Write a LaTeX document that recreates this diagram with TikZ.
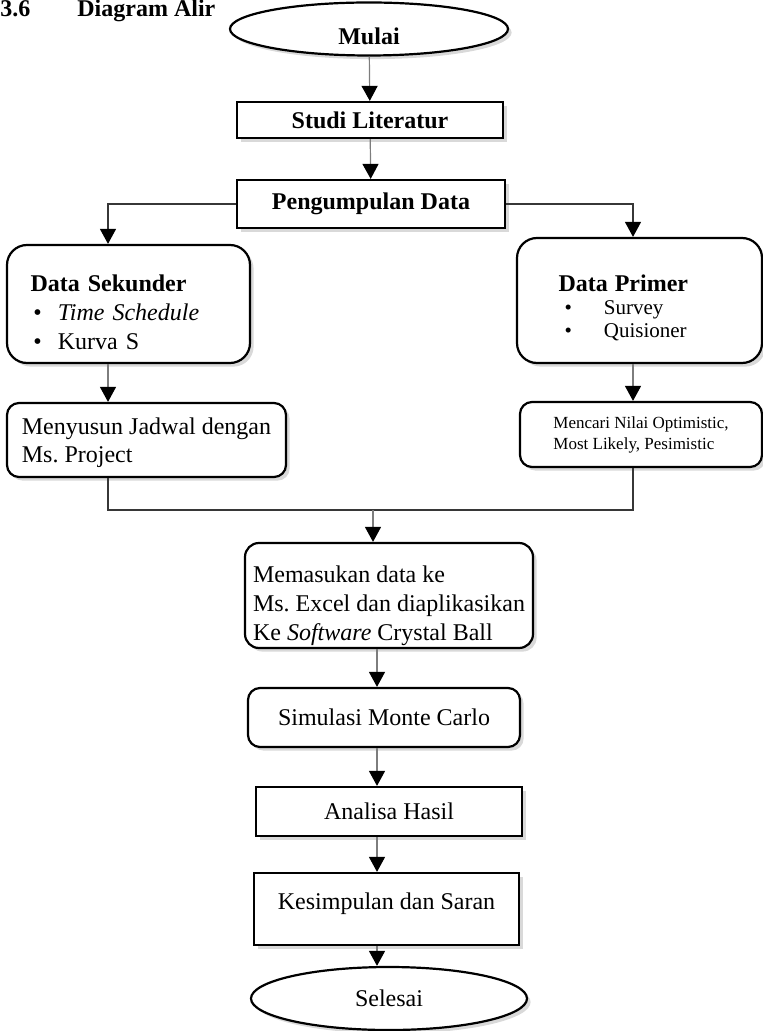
\documentclass[tikz,border=0pt]{standalone}
\usepackage{fontspec}
\setmainfont{Liberation Serif}
\frenchspacing
\usetikzlibrary{arrows.meta,positioning,shapes.geometric,shadows}
\definecolor{linegray}{RGB}{125,125,125}
\definecolor{joingray}{RGB}{55,55,55}
\tikzset{
  shd/.style={drop shadow={shadow xshift=1.8pt, shadow yshift=-1.8pt, opacity=0.3}},
  ttl/.style={anchor=base west, inner sep=0pt, font=\fontsize{12}{14}\selectfont\bfseries},
  term/.style={ellipse, draw, line width=1.1pt, fill=white, shd, inner sep=0pt,
               font=\fontsize{12}{14}\selectfont},
  proc/.style={rectangle, draw, line width=1.1pt, fill=white, shd, inner sep=0pt,
               font=\fontsize{12}{14}\selectfont},
  rproc/.style={proc, rounded corners=6pt},
  bigbox/.style={proc, rounded corners=10pt, align=left},
  flow/.style={draw=linegray, line width=0.6pt, -{Triangle[length=7.5pt, width=8pt, color=black]}},
  joinline/.style={draw=joingray, line width=0.6pt},
}
\newcommand{\blt}[2]{\hspace*{#1}\textbullet\hspace{#2}}

\begin{document}
\begin{tikzpicture}[x=0.5pt, y=-0.5pt]
  \useasboundingbox (0,0) rectangle (763,1031);
  % heading
  \node[ttl] (secno) at (0,17) {3.6};
  \node[ttl] (sectitle) at (77,17) {Diagram Alir};
  % main column
  \node[term, minimum width=139pt, minimum height=26.5pt, text height=16pt, text depth=0pt,
        font=\fontsize{12}{14}\selectfont\bfseries] (mulai) at (369,29) {Mulai};
  \node[proc, minimum width=133pt, minimum height=18pt, font=\fontsize{12}{14}\selectfont\bfseries] (studi) at (370,120) {Studi Literatur};
  \node[proc, minimum width=134pt, minimum height=24pt, font=\fontsize{12}{14}\selectfont\bfseries] (kumpul) at (371,204) {Pengumpulan Data};
  % two data branches
  \node[bigbox, minimum width=121.5pt, minimum height=59pt, text width=98pt, inner xsep=11.5pt,
        font=\fontsize{12}{14.5}\selectfont] (sekunder) at (128.5,304)
    {\rule{0pt}{17pt}\textbf{Data Sekunder}\\ \blt{1.5pt}{8pt}\textit{Time Schedule}\\ \blt{1.5pt}{8pt}Kurva S};
  \node[bigbox, minimum width=122.5pt, minimum height=62.5pt, text width=81pt, inner xsep=20.5pt,
        font=\fontsize{10.5}{11.5}\selectfont] (primer) at (639.5,300.5)
    {\rule{0pt}{16pt}{\fontsize{12}{11.5}\selectfont\bfseries Data Primer}\\ \blt{3pt}{16pt}Survey\\ \blt{3pt}{16pt}Quisioner};
  \node[rproc, minimum width=139.5pt, minimum height=37pt, align=left] (susun) at (146.5,440)
    {\rule{0pt}{11pt}Menyusun Jadwal dengan\\ Ms. Project};
  \node[rproc, minimum width=121pt, minimum height=32.5pt, align=left,
        font=\fontsize{8.5}{10.5}\selectfont] (cari) at (641,434.5)
    {Mencari Nilai Optimistic,\\ Most Likely, Pesimistic};
  % after merge
  \node[rproc, rounded corners=7pt, minimum width=144pt, minimum height=52.5pt, align=left,
        font=\fontsize{12}{14.5}\selectfont] (masuk) at (389,595.5)
    {\rule{0pt}{19pt}Memasukan data ke\\ Ms. Excel dan diaplikasikan\\ Ke \textit{Software} Crystal Ball};
  \node[rproc, minimum width=136pt, minimum height=29.5pt] (simulasi) at (384,717.5) {Simulasi Monte Carlo};
  \node[proc, minimum width=133pt, minimum height=24.5pt] (analisa) at (389,811.5) {Analisa Hasil};
  \node[proc, minimum width=132.5pt, minimum height=36pt, text height=9pt, text depth=9pt] (simpulan) at (386.5,909) {Kesimpulan dan Saran};
  \node[term, minimum width=138pt, minimum height=31.5pt] (selesai) at (389,998.5) {Selesai};

  \coordinate (lcol) at (108,0);
  \coordinate (rcol) at (633,0);
  \coordinate (mid) at (377,0);
  \coordinate (merge) at (373,510);

  \draw[flow] (mulai) -- (studi);
  \draw[flow] (studi) -- (kumpul);
  \draw[flow, draw=joingray] (kumpul.west) -| (lcol |- sekunder.north);
  \draw[flow, draw=joingray] (kumpul.east) -| (rcol |- primer.north);
  \draw[flow] (lcol |- sekunder.south) -- (lcol |- susun.north);
  \draw[flow] (rcol |- primer.south) -- (rcol |- cari.north);
  \draw[joinline] (lcol |- susun.south) -- (lcol |- merge) -- (rcol |- merge) -- (rcol |- cari.south);
  \draw[flow] (merge) -- (merge |- masuk.north);
  \draw[flow] (masuk.south -| mid) -- (simulasi.north -| mid);
  \draw[flow] (simulasi.south -| mid) -- (analisa.north -| mid);
  \draw[flow] (analisa.south -| mid) -- (simpulan.north -| mid);
  \draw[flow] (simpulan.south -| mid) -- (selesai.north -| mid);
\end{tikzpicture}
\end{document}
